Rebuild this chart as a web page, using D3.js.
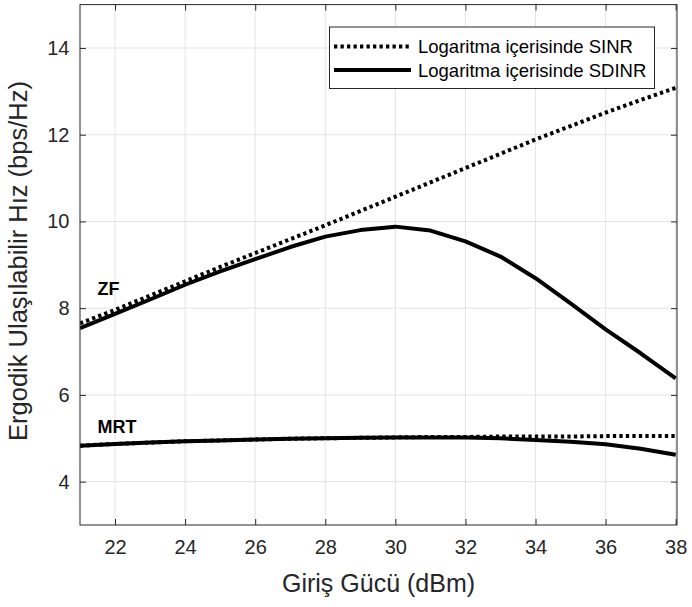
<!DOCTYPE html>
<html><head><meta charset="utf-8">
<script src="https://cdn.jsdelivr.net/npm/d3@7"></script>
<style>body{margin:0;background:#fff}svg{display:block}text{font-family:"Liberation Sans",Arial,sans-serif}</style>
</head><body><svg id="c" width="692" height="607"></svg>
<script>
const power = [21,22,23,24,25,26,27,28,29,30,31,32,33,34,35,36,37,38];
const zfSINR  = [7.65,7.96,8.29,8.62,8.95,9.27,9.59,9.91,10.24,10.57,10.90,11.23,11.56,11.89,12.20,12.51,12.80,13.08];
const zfSDINR = [7.54,7.87,8.20,8.54,8.85,9.13,9.41,9.65,9.80,9.88,9.79,9.54,9.19,8.69,8.11,7.51,6.96,6.38];
const mrtSINR = [4.83,4.87,4.90,4.93,4.95,4.97,4.99,5.00,5.01,5.02,5.03,5.03,5.04,5.04,5.04,5.05,5.05,5.05];
const mrtSDINR= [4.83,4.87,4.90,4.93,4.95,4.97,4.99,5.00,5.01,5.02,5.02,5.02,5.00,4.96,4.92,4.86,4.76,4.62];
const xTicks = [22,24,26,28,30,32,34,36,38];
const yTicks = [4,6,8,10,12,14];
const legendLabels = ["Logaritma içerisinde SINR","Logaritma içerisinde SDINR"];
const curveLabels = [{t:"ZF",x:21.5,y:8.3},{t:"MRT",x:21.5,y:5.12}];

const L=80,R=677,T=4.6,B=525;
const svg=d3.select("#c");
const x=d3.scaleLinear().domain([21,38]).range([L,R-1.3]);
const y=d3.scaleLinear().domain([3,15]).range([B,T]);
const axc="#262626";
// grid
const g=svg.append("g");
g.selectAll(".gx").data(xTicks).enter().append("line").attr("x1",d=>x(d)).attr("x2",d=>x(d)).attr("y1",T).attr("y2",B).attr("stroke","#e3e3e3").attr("stroke-width",1);
g.selectAll(".gy").data(yTicks).enter().append("line").attr("y1",d=>y(d)).attr("y2",d=>y(d)).attr("x1",L).attr("x2",R).attr("stroke","#e3e3e3").attr("stroke-width",1);
// lines
const line=d3.line().x((d,i)=>x(power[i])).y(d=>y(d));
svg.append("clipPath").attr("id","cp").append("rect").attr("x",L).attr("y",T).attr("width",R-L).attr("height",B-T);
const lg=svg.append("g").attr("clip-path","url(#cp)");
[[zfSDINR,false],[mrtSDINR,false],[zfSINR,true],[mrtSINR,true]].forEach(([d,dot])=>{
  lg.append("path").attr("d",line(d)).attr("fill","none").attr("stroke","#000").attr("stroke-width",4)
    .attr("stroke-dasharray",dot?"3.3,3.2":null).attr("stroke-linejoin","round");
});
// axes
const ax=svg.append("g").attr("transform",`translate(0,${B})`).call(d3.axisBottom(x).tickValues(xTicks).tickSize(-6).tickPadding(15).tickFormat(d3.format("d")));
const axt=svg.append("g").attr("transform",`translate(0,${T})`).call(d3.axisTop(x).tickValues(xTicks).tickSize(-6).tickFormat(""));
const ay=svg.append("g").attr("transform",`translate(${L},0)`).call(d3.axisLeft(y).tickValues(yTicks).tickSize(-6).tickPadding(10.5).tickFormat(d3.format("d")));
const ayr=svg.append("g").attr("transform",`translate(${R},0)`).call(d3.axisRight(y).tickValues(yTicks).tickSize(-6).tickFormat(""));
[ax,axt,ay,ayr].forEach(a=>{a.select(".domain").remove();a.selectAll("line").attr("stroke",axc);a.selectAll("text").attr("fill",axc).style("font-size","20px").style("font-family","'Liberation Sans',Arial,sans-serif");});
svg.append("rect").attr("x",L).attr("y",T).attr("width",R-L).attr("height",B-T).attr("fill","none").attr("stroke",axc).attr("stroke-width",1);
// axis labels
svg.append("text").attr("x",(L+R)/2).attr("y",592).attr("text-anchor","middle").attr("fill",axc).style("font-size","25px").text("Giriş Gücü (dBm)");
svg.append("text").attr("transform",`translate(27,261) rotate(-90)`).attr("text-anchor","middle").attr("fill",axc).style("font-size","25.5px").text("Ergodik Ulaşılabilir Hız (bps/Hz)");
// curve labels
curveLabels.forEach(c=>svg.append("text").attr("x",x(c.x)).attr("y",y(c.y)).attr("fill","#000").style("font-size","18px").style("font-weight","bold").text(c.t));
// legend
const lgd=svg.append("g");
lgd.append("rect").attr("x",329.5).attr("y",27).attr("width",325).attr("height",61.5).attr("fill","#fff").attr("stroke",axc).attr("stroke-width",1);
legendLabels.forEach((t,i)=>{
  const yy=46.5+i*23.5;
  lgd.append("line").attr("x1",334).attr("x2",411).attr("y1",yy).attr("y2",yy).attr("stroke","#000").attr("stroke-width",4).attr("stroke-dasharray",i===0?"3.3,3.2":null);
  lgd.append("text").attr("x",418).attr("y",yy+6.5).attr("fill","#000").style("font-size","18.5px").text(t);
});
</script></body></html>
